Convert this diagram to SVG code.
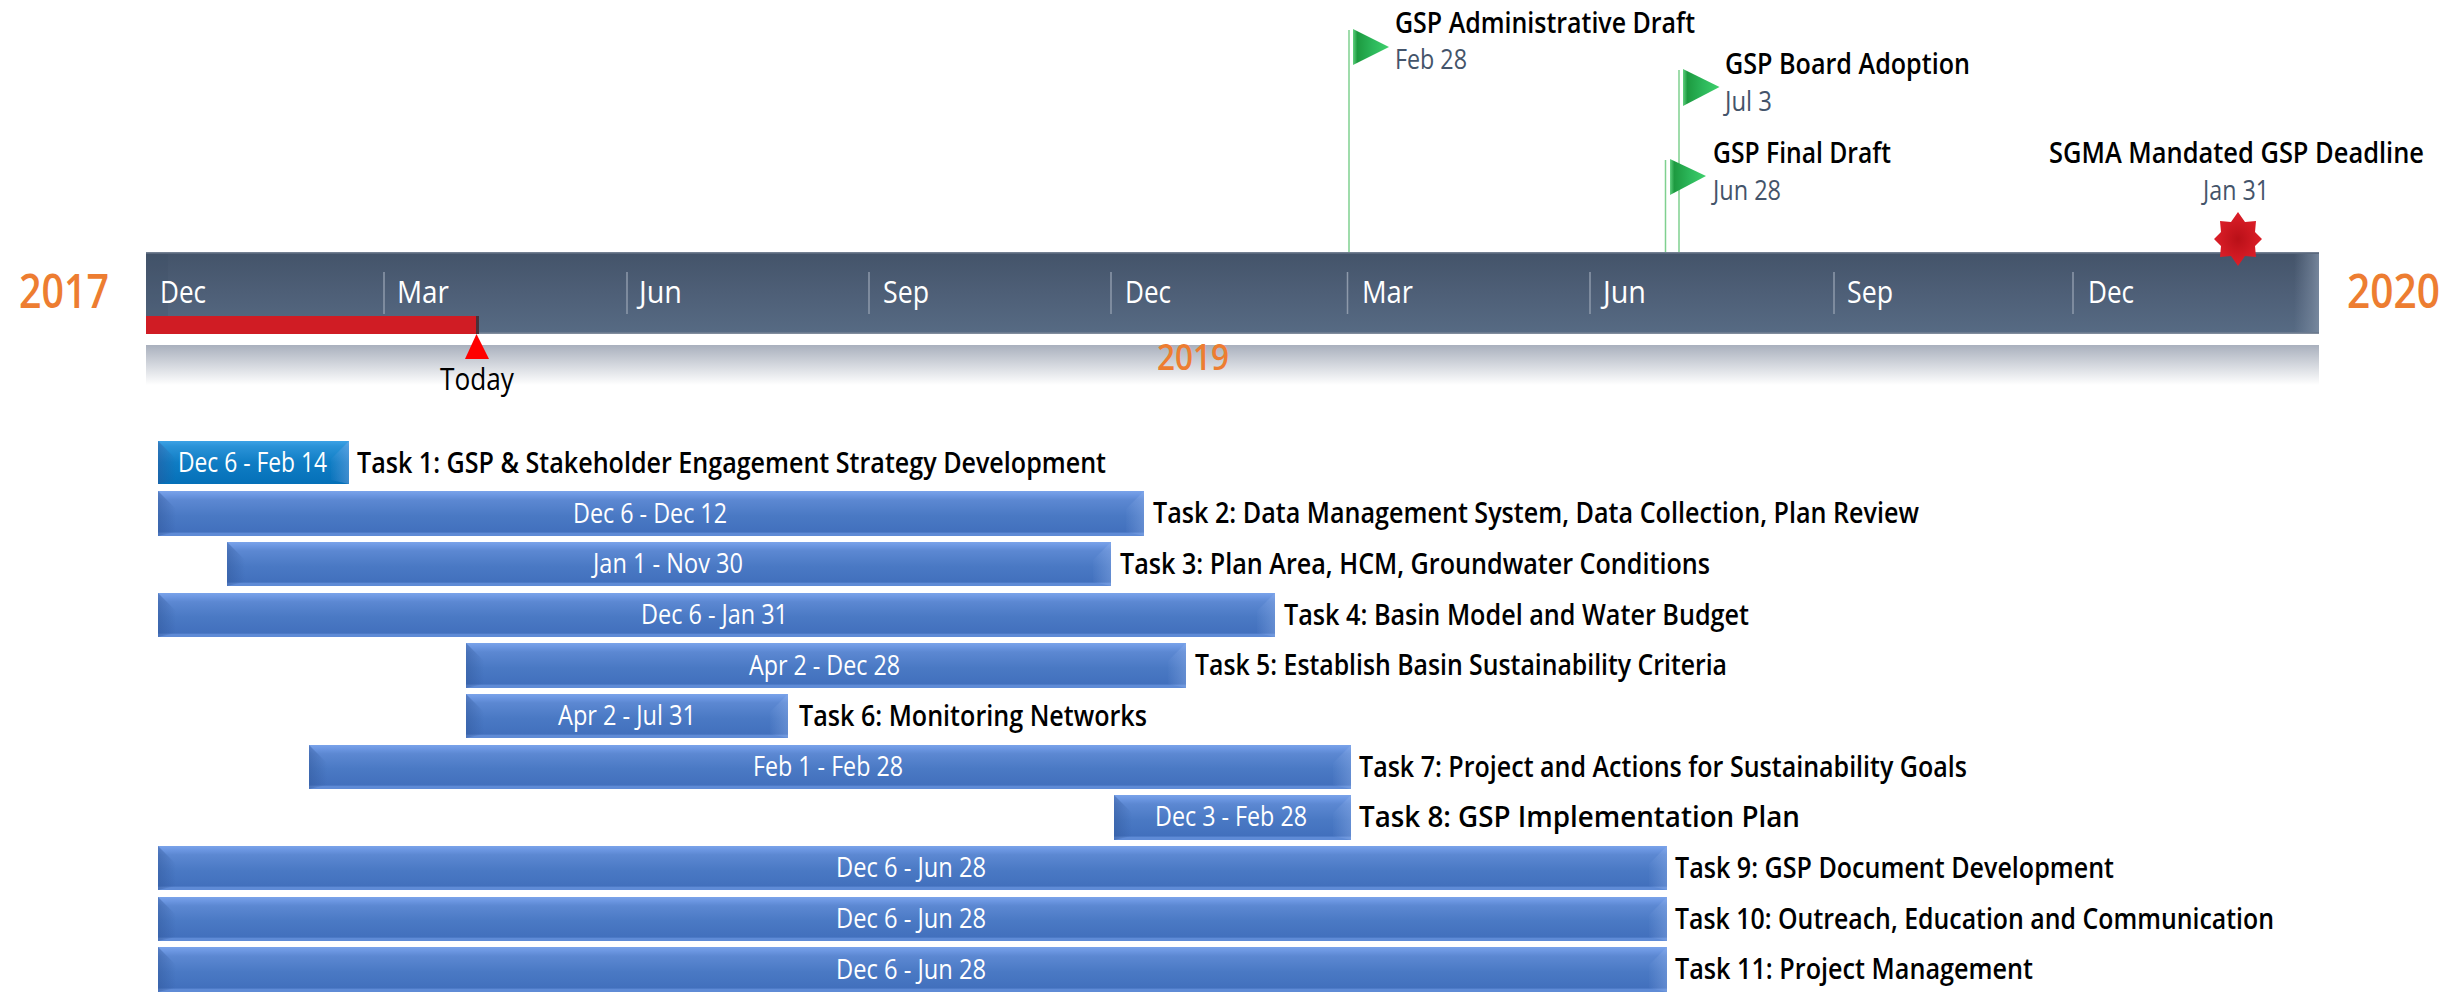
<svg xmlns="http://www.w3.org/2000/svg" width="2446" height="994" viewBox="0 0 2446 994">
<style>
text{font-family:"Open Sans","Liberation Sans",sans-serif}
.task{font-size:29px;font-weight:600;fill:#000}
.date{font-size:27px;fill:#fff}
.month{font-size:31px;fill:#fff}
.mt{font-size:29px;font-weight:600;fill:#000}
.md{font-size:27px;fill:#44546a}
.yr{font-size:47px;font-weight:600;fill:#ed7d31}
.tick{stroke:#8e9aab;stroke-width:1.5}
.pole{stroke:#7fd08f;stroke-width:1.5;fill:none}
.bevelL{fill:url(#bevL)}
.bevelR{fill:url(#bevR)}
.blue{fill:url(#blue)}
.teal{fill:url(#teal)}
</style>
<defs>
<linearGradient id="blue" x1="0" y1="0" x2="0" y2="1">
<stop offset="0" stop-color="#7aa3ea"/><stop offset=".1" stop-color="#6a95e0"/><stop offset=".2" stop-color="#5c88d2"/><stop offset=".55" stop-color="#4a79c4"/><stop offset=".91" stop-color="#4270bd"/><stop offset=".94" stop-color="#5f8bd6"/><stop offset="1" stop-color="#5f8bd6"/>
</linearGradient>
<linearGradient id="teal" x1="0" y1="0" x2="0" y2="1">
<stop offset="0" stop-color="#3ca2e6"/><stop offset=".12" stop-color="#2b93d8"/><stop offset=".5" stop-color="#0f7dc4"/><stop offset="1" stop-color="#0570b8"/>
</linearGradient>
<linearGradient id="bevL" x1="0" y1="0" x2="1" y2="0">
<stop offset="0" stop-color="#2f5597" stop-opacity=".45"/><stop offset="1" stop-color="#2f5597" stop-opacity="0"/>
</linearGradient>
<linearGradient id="bevR" x1="1" y1="0" x2="0" y2="0">
<stop offset="0" stop-color="#8fb0ea" stop-opacity=".4"/><stop offset="1" stop-color="#8fb0ea" stop-opacity=".03"/>
</linearGradient>
<linearGradient id="bar" x1="0" y1="0" x2="0" y2="1">
<stop offset="0" stop-color="#7e8a9c"/><stop offset=".03" stop-color="#44546a"/><stop offset=".5" stop-color="#4e5f77"/><stop offset=".97" stop-color="#566a83"/><stop offset="1" stop-color="#8b95a3"/>
</linearGradient>
<linearGradient id="barEnd" x1="0" y1="0" x2="1" y2="0">
<stop offset="0" stop-color="#7d8da3" stop-opacity="0"/><stop offset=".7" stop-color="#7d8da3" stop-opacity=".55"/><stop offset="1" stop-color="#7d8da3" stop-opacity=".85"/>
</linearGradient>
<linearGradient id="shadow" x1="0" y1="0" x2="0" y2="1">
<stop offset="0" stop-color="#a9b0bd"/><stop offset="1" stop-color="#ffffff"/>
</linearGradient>
<linearGradient id="flag" x1="0" y1="0" x2="1" y2="0">
<stop offset="0" stop-color="#5fd07e"/><stop offset=".12" stop-color="#1d9a40"/><stop offset=".55" stop-color="#2cb75a"/><stop offset="1" stop-color="#3fd06c"/>
</linearGradient>
<radialGradient id="star" cx=".5" cy=".5" r=".55">
<stop offset="0" stop-color="#b91018"/><stop offset="1" stop-color="#e0202a"/>
</radialGradient>
</defs>
<rect width="2446" height="994" fill="#fff"/>

<g id="connectors">
<line class="pole" x1="1349" y1="30" x2="1349" y2="253"/>
<line class="pole" x1="1679" y1="70" x2="1679" y2="253"/>
<line class="pole" x1="1665.5" y1="160" x2="1665.5" y2="253"/>
</g>

<g id="timeline">
<rect x="146" y="345" width="2173" height="40" fill="url(#shadow)"/>
<rect x="146" y="252" width="2173" height="82" fill="url(#bar)"/>
<rect x="146" y="254" width="22" height="78" fill="#3d4c62" opacity=".22"/>
<rect x="2294" y="254" width="25" height="78" fill="url(#barEnd)"/>
<line class="tick" x1="384" y1="272" x2="384" y2="314"/>
<line class="tick" x1="627" y1="272" x2="627" y2="314"/>
<line class="tick" x1="869" y1="272" x2="869" y2="314"/>
<line class="tick" x1="1111" y1="272" x2="1111" y2="314"/>
<line class="tick" x1="1347.5" y1="272" x2="1347.5" y2="314"/>
<line class="tick" x1="1590" y1="272" x2="1590" y2="314"/>
<line class="tick" x1="1834" y1="272" x2="1834" y2="314"/>
<line class="tick" x1="2073" y1="272" x2="2073" y2="314"/>
<text class="month" x="160" y="303" textLength="46" lengthAdjust="spacingAndGlyphs">Dec</text>
<text class="month" x="397" y="303" textLength="52" lengthAdjust="spacingAndGlyphs">Mar</text>
<text class="month" x="639" y="303" textLength="43" lengthAdjust="spacingAndGlyphs">Jun</text>
<text class="month" x="883" y="303" textLength="46" lengthAdjust="spacingAndGlyphs">Sep</text>
<text class="month" x="1125" y="303" textLength="46" lengthAdjust="spacingAndGlyphs">Dec</text>
<text class="month" x="1362" y="303" textLength="51" lengthAdjust="spacingAndGlyphs">Mar</text>
<text class="month" x="1603" y="303" textLength="43" lengthAdjust="spacingAndGlyphs">Jun</text>
<text class="month" x="1847" y="303" textLength="46" lengthAdjust="spacingAndGlyphs">Sep</text>
<text class="month" x="2088" y="303" textLength="46" lengthAdjust="spacingAndGlyphs">Dec</text>
</g>

<g id="years">
<text class="yr" x="19" y="308" textLength="90" lengthAdjust="spacingAndGlyphs">2017</text>
<text class="yr" transform="translate(2347 308) scale(.86 1)" textLength="108" lengthAdjust="spacingAndGlyphs">2020</text>
<text x="1157" y="370" font-size="36" font-weight="600" fill="#ed7d31" textLength="72" lengthAdjust="spacingAndGlyphs">2019</text>
</g>

<g id="today">
<rect x="146" y="316" width="333" height="18" fill="#d01c24"/>
<rect x="476" y="316" width="3" height="18" fill="#4a3038"/>
<polygon points="476.500,334 489,359 465,359" fill="#fe0000"/>
<text x="440" y="390" font-size="31" fill="#000" textLength="74" lengthAdjust="spacingAndGlyphs">Today</text>
</g>

<g id="milestone-admin">
<polygon points="1353,29 1389,47 1353,65" fill="url(#flag)"/>
<text class="mt" x="1395" y="33" textLength="300" lengthAdjust="spacingAndGlyphs">GSP Administrative Draft</text>
<text class="md" x="1395" y="69" textLength="72" lengthAdjust="spacingAndGlyphs">Feb 28</text>
</g>
<g id="milestone-board">
<polygon points="1683,69 1719.500,87 1683,106" fill="url(#flag)"/>
<text class="mt" x="1725" y="74" textLength="245" lengthAdjust="spacingAndGlyphs">GSP Board Adoption</text>
<text class="md" x="1725" y="111" textLength="47" lengthAdjust="spacingAndGlyphs">Jul 3</text>
</g>
<g id="milestone-final">
<polygon points="1670,159 1706,176 1670,195" fill="url(#flag)"/>
<text class="mt" x="1713" y="163" textLength="178" lengthAdjust="spacingAndGlyphs">GSP Final Draft</text>
<text class="md" x="1713" y="200" textLength="68" lengthAdjust="spacingAndGlyphs">Jun 28</text>
</g>
<g id="milestone-sgma">
<polygon points="2238,212 2245,222 2256,221 2255,232 2262,239 2255,246 2256,257 2245,256 2238,266 2231,256 2220,257 2221,246 2214,239 2221,232 2220,221 2231,222" fill="url(#star)"/>
<text class="mt" transform="translate(2049 163) scale(.78 1)" textLength="480.800" lengthAdjust="spacingAndGlyphs">SGMA Mandated GSP Deadline</text>
<text class="md" x="2203" y="200" textLength="66" lengthAdjust="spacingAndGlyphs">Jan 31</text>
</g>

<g id="task-1">
<rect class="teal" x="158" y="441" width="191" height="43"/>
<polygon class="bevelL" points="158,441 176,459 176,480 158,484"/><polygon class="bevelR" points="349,441 331,459 331,480 349,484"/>
<text class="date" x="178" y="472" textLength="149" lengthAdjust="spacingAndGlyphs">Dec 6 - Feb 14</text>
<text class="task" x="357" y="473" textLength="749" lengthAdjust="spacingAndGlyphs">Task 1: GSP &amp; Stakeholder Engagement Strategy Development</text>
</g>
<g id="task-2">
<rect class="blue" x="158" y="491" width="986" height="45"/>
<polygon class="bevelL" points="158,491 176,509 176,532 158,536"/><polygon class="bevelR" points="1144,491 1126,509 1126,532 1144,536"/>
<text class="date" x="573" y="523" textLength="154" lengthAdjust="spacingAndGlyphs">Dec 6 - Dec 12</text>
<text class="task" x="1153" y="523" textLength="766" lengthAdjust="spacingAndGlyphs">Task 2: Data Management System, Data Collection, Plan Review</text>
</g>
<g id="task-3">
<rect class="blue" x="227" y="542" width="884" height="44"/>
<polygon class="bevelL" points="227,542 245,560 245,582 227,586"/><polygon class="bevelR" points="1111,542 1093,560 1093,582 1111,586"/>
<text class="date" x="593" y="573" textLength="150" lengthAdjust="spacingAndGlyphs">Jan 1 - Nov 30</text>
<text class="task" x="1120" y="574" textLength="590" lengthAdjust="spacingAndGlyphs">Task 3: Plan Area, HCM, Groundwater Conditions</text>
</g>
<g id="task-4">
<rect class="blue" x="158" y="593" width="1117" height="44"/>
<polygon class="bevelL" points="158,593 176,611 176,633 158,637"/><polygon class="bevelR" points="1275,593 1257,611 1257,633 1275,637"/>
<text class="date" x="641" y="624" textLength="147" lengthAdjust="spacingAndGlyphs">Dec 6 - Jan 31</text>
<text class="task" x="1284" y="625" textLength="465" lengthAdjust="spacingAndGlyphs">Task 4: Basin Model and Water Budget</text>
</g>
<g id="task-5">
<rect class="blue" x="466" y="643" width="720" height="45"/>
<polygon class="bevelL" points="466,643 484,661 484,684 466,688"/><polygon class="bevelR" points="1186,643 1168,661 1168,684 1186,688"/>
<text class="date" x="749" y="675" textLength="151" lengthAdjust="spacingAndGlyphs">Apr 2 - Dec 28</text>
<text class="task" x="1195" y="675" textLength="532" lengthAdjust="spacingAndGlyphs">Task 5: Establish Basin Sustainability Criteria</text>
</g>
<g id="task-6">
<rect class="blue" x="466" y="694" width="322" height="44"/>
<polygon class="bevelL" points="466,694 484,712 484,734 466,738"/><polygon class="bevelR" points="788,694 770,712 770,734 788,738"/>
<text class="date" x="558" y="725" textLength="138" lengthAdjust="spacingAndGlyphs">Apr 2 - Jul 31</text>
<text class="task" x="799" y="726" textLength="348" lengthAdjust="spacingAndGlyphs">Task 6: Monitoring Networks</text>
</g>
<g id="task-7">
<rect class="blue" x="309" y="745" width="1042" height="44"/>
<polygon class="bevelL" points="309,745 327,763 327,785 309,789"/><polygon class="bevelR" points="1351,745 1333,763 1333,785 1351,789"/>
<text class="date" x="753" y="776" textLength="150" lengthAdjust="spacingAndGlyphs">Feb 1 - Feb 28</text>
<text class="task" x="1359" y="777" textLength="608" lengthAdjust="spacingAndGlyphs">Task 7: Project and Actions for Sustainability Goals</text>
</g>
<g id="task-8">
<rect class="blue" x="1114" y="795" width="237" height="45"/>
<polygon class="bevelL" points="1114,795 1132,813 1132,836 1114,840"/><polygon class="bevelR" points="1351,795 1333,813 1333,836 1351,840"/>
<text class="date" x="1155" y="826" textLength="152" lengthAdjust="spacingAndGlyphs">Dec 3 - Feb 28</text>
<text class="task" x="1359" y="827" textLength="441" lengthAdjust="spacingAndGlyphs">Task 8: GSP Implementation Plan</text>
</g>
<g id="task-9">
<rect class="blue" x="158" y="846" width="1509" height="44"/>
<polygon class="bevelL" points="158,846 176,864 176,886 158,890"/><polygon class="bevelR" points="1667,846 1649,864 1649,886 1667,890"/>
<text class="date" x="836" y="877" textLength="150" lengthAdjust="spacingAndGlyphs">Dec 6 - Jun 28</text>
<text class="task" x="1675" y="878" textLength="439" lengthAdjust="spacingAndGlyphs">Task 9: GSP Document Development</text>
</g>
<g id="task-10">
<rect class="blue" x="158" y="897" width="1509" height="44"/>
<polygon class="bevelL" points="158,897 176,915 176,937 158,941"/><polygon class="bevelR" points="1667,897 1649,915 1649,937 1667,941"/>
<text class="date" x="836" y="928" textLength="150" lengthAdjust="spacingAndGlyphs">Dec 6 - Jun 28</text>
<text class="task" x="1675" y="929" textLength="599" lengthAdjust="spacingAndGlyphs">Task 10: Outreach, Education and Communication</text>
</g>
<g id="task-11">
<rect class="blue" x="158" y="947" width="1509" height="45"/>
<polygon class="bevelL" points="158,947 176,965 176,988 158,992"/><polygon class="bevelR" points="1667,947 1649,965 1649,988 1667,992"/>
<text class="date" x="836" y="979" textLength="150" lengthAdjust="spacingAndGlyphs">Dec 6 - Jun 28</text>
<text class="task" x="1675" y="979" textLength="358" lengthAdjust="spacingAndGlyphs">Task 11: Project Management</text>
</g>
</svg>
